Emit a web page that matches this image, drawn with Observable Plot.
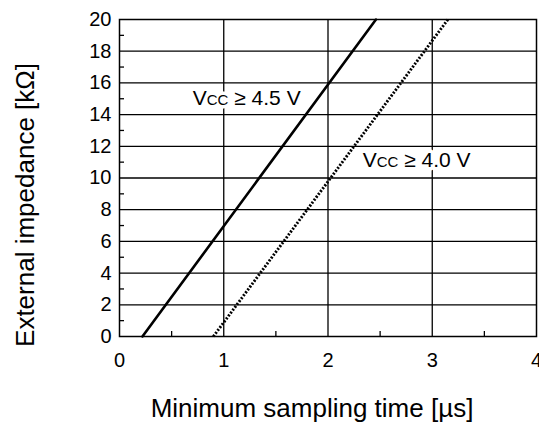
<!DOCTYPE html>
<html>
<head>
<meta charset="utf-8">
<script src="https://cdn.jsdelivr.net/npm/d3@7"></script>
<script src="https://cdn.jsdelivr.net/npm/@observablehq/plot@0.6"></script>
<style>
  html, body { margin: 0; padding: 0; background: white; }
  #chart { width: 539px; height: 425px; overflow: hidden; }
</style>
</head>
<body>
<div id="chart"></div>
<script>
// Series: minimum sampling time (µs) vs external impedance (kΩ)
const series = ["Vcc ≥ 4.5 V", "Vcc ≥ 4.0 V"];
const timeVcc45 = [0.22, 2.46];
const impVcc45 = [0, 20];
const timeVcc40 = [0.9, 3.15];
const impVcc40 = [0, 20];

// Axis ticks
const xTicks = [0, 1, 2, 3, 4];
const xMinor = [0.5, 1.5, 2.5, 3.5];
const yTicks = [0, 2, 4, 6, 8, 10, 12, 14, 16, 18, 20];
const yMinor = [1, 3, 5, 7, 9, 11, 13, 15, 17, 19];
const xGrid = [1, 2, 3];
const yGrid = [2, 4, 6, 8, 10, 12, 14, 16, 18];

// Label anchor points (data coordinates)
const labelX = [1.22, 2.85];
const labelY = [15.05, 11.1];

const xTitle = "Minimum sampling time [µs]";
const yTitle = "External impedance [kΩ]";

const lineData = [
  ...timeVcc45.map((t, i) => ({series: series[0], x: t, y: impVcc45[i]})),
  ...timeVcc40.map((t, i) => ({series: series[1], x: t, y: impVcc40[i]}))
];
const labelData = series.map((s, i) => ({text: s, x: labelX[i], y: labelY[i]}));

const font = "'Liberation Sans', Arial, Helvetica, sans-serif";

const chart = Plot.plot({
  width: 539,
  height: 425,
  marginLeft: 119,
  marginRight: 3,
  marginTop: 19,
  marginBottom: 89,
  x: {domain: [0, 4]},
  y: {domain: [0, 20]},
  style: {fontFamily: font, background: "white", color: "black", overflow: "visible"},
  marks: [
    Plot.gridX(xGrid, {stroke: "black", strokeOpacity: 1, strokeWidth: 1.3}),
    Plot.gridY(yGrid, {stroke: "black", strokeOpacity: 1, strokeWidth: 1.3}),
    Plot.axisX(xTicks, {tickSize: 0, tickPadding: 16, fontSize: 20, label: null}),
    Plot.axisY(yTicks, {tickSize: 0, tickPadding: 8, fontSize: 20, label: null}),
    Plot.axisX(xMinor, {tickSize: 5, dy: -5, tickFormat: () => "", label: null, strokeWidth: 1.3}),
    Plot.axisY(yMinor, {tickSize: 5, dx: 5, tickFormat: () => "", label: null, strokeWidth: 1.3}),
    Plot.frame({stroke: "black", strokeWidth: 1.5}),
    Plot.line(lineData.filter(d => d.series === series[0]), {x: "x", y: "y", stroke: "black", strokeWidth: 2.6}),
    Plot.line(lineData.filter(d => d.series === series[1]), {x: "x", y: "y", stroke: "black", strokeWidth: 2.9, strokeDasharray: "2,1.6", strokeLinecap: "butt"}),
    Plot.text(labelData, {x: "x", y: "y", text: "text", fontSize: 21, fontVariant: "small-caps", fill: "black", stroke: "white", strokeWidth: 7, textAnchor: "middle", lineAnchor: "middle"}),
    Plot.text([xTitle], {frameAnchor: "bottom", dy: 72, dx: -16, fontSize: 26, fill: "black", textAnchor: "middle", lineAnchor: "middle"}),
    Plot.text([yTitle], {frameAnchor: "left", rotate: -90, dx: -94, dy: 27, fontSize: 26, fill: "black", textAnchor: "middle", lineAnchor: "middle"})
  ]
});

document.getElementById("chart").appendChild(chart);
</script>
</body>
</html>
